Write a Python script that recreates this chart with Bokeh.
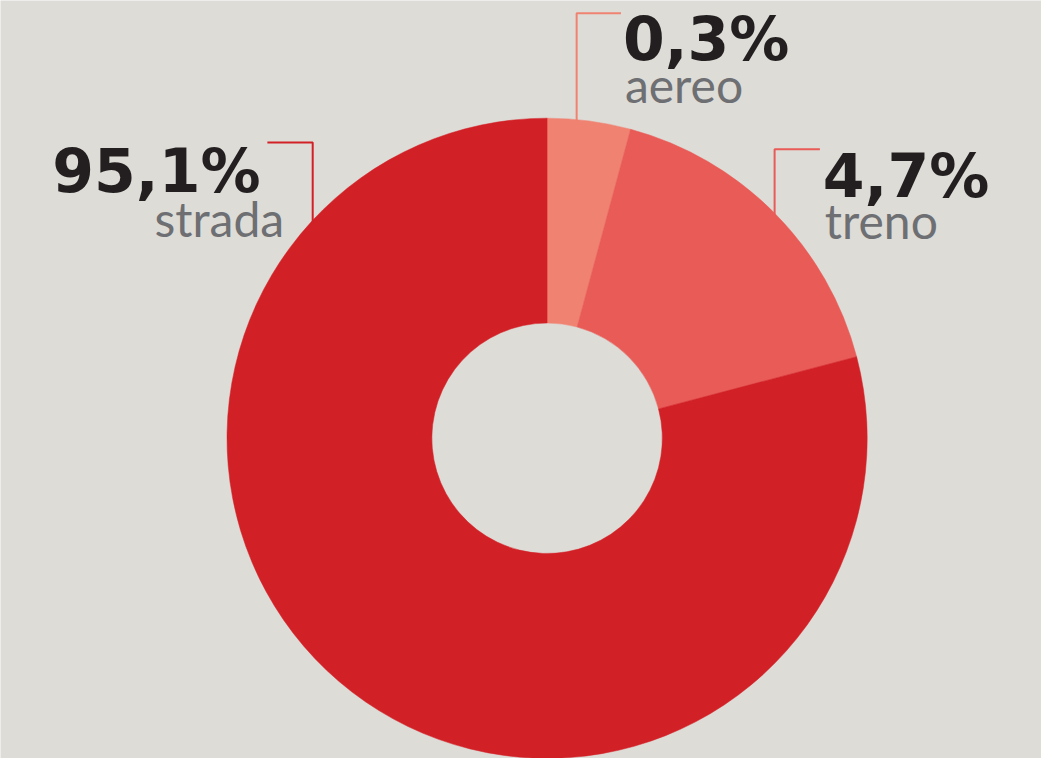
import math
from bokeh.plotting import figure
from bokeh.models import Range1d
from bokeh.core.properties import value
from bokeh.embed import file_html
from bokeh.resources import INLINE

# ---- data ----
categories = ["aereo", "treno", "strada"]
pct_labels = ["0,3%", "4,7%", "95,1%"]
# drawn slice shares (%) (chart is not proportional)
slice_shares = [4.2, 16.7, 79.1]
colors = ["#F08272", "#E95B56", "#D22027"]

BG = "#DDDCD7"
W, H = 1057, 774
M = 8
cx, cy = 555, 447
R_OUT, R_IN = 325, 117

def Y(py):
    return H - py

p = figure(width=W - 2 * M, height=H - 2 * M, output_backend="svg",
           toolbar_location=None, x_range=Range1d(0, W),
           y_range=Range1d(0, H), min_border=0)
p.axis.visible = False
p.grid.visible = False
p.outline_line_color = None
p.background_fill_color = BG
p.border_fill_color = BG

total = sum(slice_shares)
cum = 0.0
starts, ends = [], []
for s in slice_shares:
    starts.append(math.radians(90 - cum / total * 360))
    cum += s
    ends.append(math.radians(90 - cum / total * 360))

p.annular_wedge(x=[cx] * 3, y=[Y(cy)] * 3, inner_radius=R_IN, outer_radius=R_OUT,
                start_angle=starts, end_angle=ends, direction="clock",
                fill_color=colors, line_color=colors, line_width=0.5)

# leader lines: (vertical x, top y, horizontal end x)
leaders = [(585, 13, 630), (786, 152, 832), (317, 145, 271)]
for (lx, ly, hx), c in zip(leaders, colors):
    bottom = cy - math.sqrt(R_OUT ** 2 - (lx - cx) ** 2) + 1
    p.line(x=[hx, lx, lx], y=[Y(ly), Y(ly), Y(bottom)], line_color=c, line_width=2)

PCT_SIZE, NAME_SIZE = 60, 48
PCT_SHIFT, NAME_SHIFT = 0.39 * PCT_SIZE, 0.39 * NAME_SIZE
# labels: (x pct, baseline pct, x name, baseline name, align)
label_pos = [(632, 63, 634, 104, "left"), (835, 203, 837, 243, "left"),
             (264, 198, 288, 241, "right")]
for (px, py, nx, ny, al), t, n in zip(label_pos, pct_labels, categories):
    p.text(x=[px], y=[Y(py - PCT_SHIFT)], text=[t], text_font=value("DejaVu Sans"),
           text_font_style="bold", text_font_size="%dpx" % PCT_SIZE, text_color="#231F20",
           text_align=al, text_baseline="alphabetic")
    p.text(x=[nx], y=[Y(ny - NAME_SHIFT)], text=[n], text_font=value("Lato"),
           text_font_size="%dpx" % NAME_SIZE, text_color="#6E6F73",
           text_align=al, text_baseline="alphabetic")

html = file_html(p, INLINE)
html = html.replace("<body>", '<body style="background:%s;margin:8px">' % BG, 1)
open("out.html", "w").write(html)
